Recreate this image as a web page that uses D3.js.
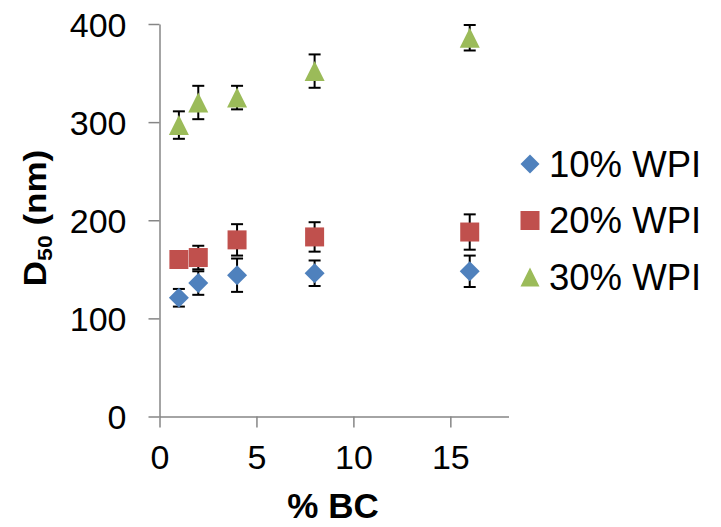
<!DOCTYPE html>
<html><head><meta charset="utf-8">
<script src="https://cdn.jsdelivr.net/npm/d3@7"></script>
<style>body{margin:0;background:#fff}svg{display:block}text{font-family:"Liberation Sans",Arial,sans-serif}</style>
</head><body><svg id="c" width="721" height="527"></svg>
<script>
const bc = [1, 2, 4, 8, 16];
const wpi10 = [121, 136, 144, 146, 148];
const wpi10Err = [9, 12, 17, 13, 16];
const wpi20 = [160, 162, 180, 183, 188];
const wpi20Err = [4, 12, 16, 15, 18];
const wpi30 = [297, 320, 325, 352, 386];
const wpi30Err = [14, 17, 12, 17, 13];
const seriesNames = ["10% WPI", "20% WPI", "30% WPI"];
const xTicks = [0, 5, 10, 15];
const yTicks = [0, 100, 200, 300, 400];

const series = [
  {name: seriesNames[0], vals: wpi10, err: wpi10Err, color: "#4F81BD", shape: "diamond"},
  {name: seriesNames[1], vals: wpi20, err: wpi20Err, color: "#C0504D", shape: "square"},
  {name: seriesNames[2], vals: wpi30, err: wpi30Err, color: "#9BBB59", shape: "triangle"}
];

const svg = d3.select("#c");
const x = d3.scaleLinear().domain([0, 18]).range([159.5, 508.5]);
const y = d3.scaleLinear().domain([0, 400]).range([416.5, 24]);
const axisColor = "#868686";

// X axis
const gx = svg.append("g").attr("transform", `translate(0,${y(0)})`)
  .call(d3.axisBottom(x).tickValues(xTicks).tickSize(11).tickPadding(17).tickSizeOuter(0));
gx.select(".domain").attr("stroke", axisColor).attr("stroke-width", 1.5);
gx.selectAll(".tick line").attr("stroke", axisColor).attr("stroke-width", 1.5);
gx.selectAll(".tick text").attr("font-size", 34).attr("fill", "#000")
  .attr("font-family", "Liberation Sans, Arial, sans-serif").attr("dy", "0.71em");

// Y axis
const gy = svg.append("g").attr("transform", `translate(${x(0)},0)`)
  .call(d3.axisLeft(y).tickValues(yTicks).tickSize(11).tickPadding(22).tickSizeOuter(0));
gy.select(".domain").attr("stroke", axisColor).attr("stroke-width", 1.5);
gy.selectAll(".tick line").attr("stroke", axisColor).attr("stroke-width", 1.5);
gy.selectAll(".tick text").attr("font-size", 34).attr("fill", "#000")
  .attr("font-family", "Liberation Sans, Arial, sans-serif").attr("dy", "0.36em");

// axis titles
svg.append("text").attr("x", 333).attr("y", 518).attr("text-anchor", "middle")
  .attr("font-size", 35).attr("font-weight", "bold").text("% BC");

const yl = svg.append("text").attr("transform", "translate(46,218) rotate(-90) scale(1,0.9)")
  .attr("text-anchor", "middle").attr("font-size", 35).attr("font-weight", "bold");
yl.append("tspan").text("D");
yl.append("tspan").attr("font-size", 23).attr("dy", 7).text("50");
yl.append("tspan").attr("dy", -7).text(" (nm)");

function shapePath(shape, s) {
  if (shape === "diamond") return `M0,${-s/2}L${s/2},0L0,${s/2}L${-s/2},0Z`;
  if (shape === "square") return `M${-s/2},${-s/2}h${s}v${s}h${-s}Z`;
  return `M0,${-s/2}L${s/2},${s/2}L${-s/2},${s/2}Z`;
}
const sizes = {diamond: 20, square: 19, triangle: 20};

// error bars (behind)
series.forEach(sr => {
  const g = svg.append("g").attr("stroke", "#000").attr("stroke-width", 2);
  bc.forEach((b, i) => {
    const cx = x(b), t = y(sr.vals[i] + sr.err[i]), bt = y(sr.vals[i] - sr.err[i]);
    g.append("line").attr("x1", cx).attr("x2", cx).attr("y1", t).attr("y2", bt);
    g.append("line").attr("x1", cx - 6).attr("x2", cx + 6).attr("y1", t).attr("y2", t);
    g.append("line").attr("x1", cx - 6).attr("x2", cx + 6).attr("y1", bt).attr("y2", bt);
  });
});
// markers
series.forEach(sr => {
  svg.append("g").selectAll("path").data(bc).join("path")
    .attr("transform", (b, i) => `translate(${x(b)},${y(sr.vals[i])})`)
    .attr("d", shapePath(sr.shape, sizes[sr.shape]))
    .attr("fill", sr.color);
});

// legend
const leg = svg.append("g");
series.forEach((sr, i) => {
  const cy = 164 + i * 56.5;
  leg.append("path").attr("transform", `translate(530,${cy})`)
    .attr("d", shapePath(sr.shape, 19)).attr("fill", sr.color);
  leg.append("text").attr("x", 549).attr("y", cy + 12.5).attr("font-size", 36.5).attr("fill", "#000").text(sr.name);
});
</script></body></html>
